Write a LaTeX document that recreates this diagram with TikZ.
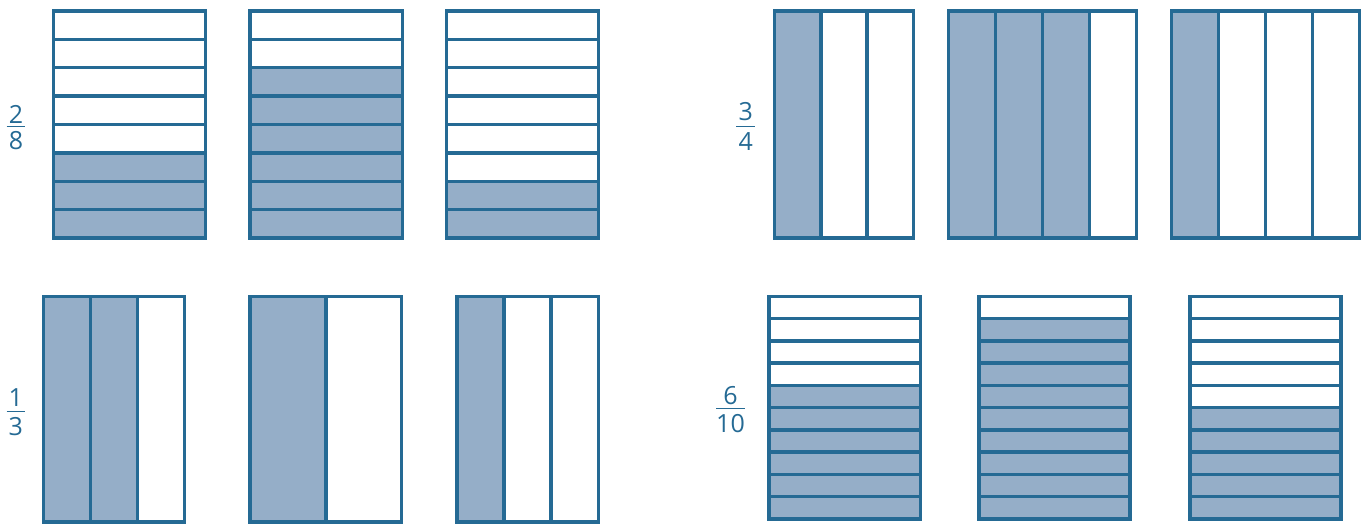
\documentclass[tikz,border=0pt]{standalone}
\usepackage{fontspec}
\setmainfont{Open Sans}
\definecolor{frameblue}{HTML}{256A94}
\definecolor{cellblue}{HTML}{95AEC8}
\tikzset{
  stripframe/.style={draw=frameblue,line width=3.5pt,line join=miter},
  stripline/.style={draw=frameblue,line width=3.5pt},
  cellfill/.style={fill=cellblue},
  fraclab/.style={text=frameblue,inner sep=0pt,font=\fontsize{25}{25}\selectfont},
  fracbar/.style={draw=frameblue,line width=1.3pt}
}
\newcommand\hstrips[6]{%
  \pgfmathsetmacro\stripH{(#4-#2)/#5}%
  \fill[cellfill] (#1,#4) rectangle (#3,{#4-#6*\stripH});
  \pgfmathtruncatemacro\stripM{#5-1}%
  \foreach \i in {1,...,\stripM}{\draw[stripline] (#1,{#2+\i*\stripH}) -- (#3,{#2+\i*\stripH});}
  \draw[stripframe] (#1,#2) rectangle (#3,#4);
}
\newcommand\vstrips[6]{%
  \pgfmathsetmacro\stripW{(#3-#1)/#5}%
  \fill[cellfill] (#1,#2) rectangle ({#1+#6*\stripW},#4);
  \pgfmathtruncatemacro\stripM{#5-1}%
  \foreach \i in {1,...,\stripM}{\draw[stripline] ({#1+\i*\stripW},#2) -- ({#1+\i*\stripW},#4);}
  \draw[stripframe] (#1,#2) rectangle (#3,#4);
}
\begin{document}
\begin{tikzpicture}[x=1pt,y=-1pt]
\useasboundingbox (0,0) rectangle (1370,524);
% top left
\hstrips{53.5}{11}{205.5}{238}{8}{3}
\hstrips{250}{11}{402.3}{238}{8}{6}
\hstrips{446.7}{11}{598.3}{238}{8}{2}
% top right
\vstrips{774.3}{11}{913.7}{238}{3}{1}
\vstrips{948.7}{11}{1136.7}{238}{4}{3}
\vstrips{1171.7}{11}{1359.3}{238}{4}{1}
% bottom left
\vstrips{43.3}{296.3}{184.7}{522}{3}{2}
\vstrips{250}{296.3}{401.7}{522}{2}{1}
\vstrips{457}{296.3}{598.3}{522}{3}{1}
% bottom right
\hstrips{769}{296.3}{920.3}{519}{10}{6}
\hstrips{979}{296.3}{1130}{519}{10}{9}
\hstrips{1190}{296.3}{1341}{519}{10}{5}
% labels
\node[fraclab] (n28) at (16,114.3) {2};
\node[fraclab] (d28) at (16,140.5) {8};
\coordinate (b28l) at (6.7,126.7); \coordinate (b28r) at (25,126.7);
\draw[fracbar] (b28l) -- (b28r);
\node[fraclab] (n34) at (745.7,112) {3};
\node[fraclab] (d34) at (745.7,141.7) {4};
\coordinate (b34l) at (736,126.7); \coordinate (b34r) at (755.3,126.7);
\draw[fracbar] (b34l) -- (b34r);
\node[fraclab] (n13) at (15.8,397.8) {1};
\node[fraclab] (d13) at (15.8,426.2) {3};
\coordinate (b13l) at (6.7,411.7); \coordinate (b13r) at (25,411.7);
\draw[fracbar] (b13l) -- (b13r);
\node[fraclab] (n610) at (730.5,395.3) {6};
\node[fraclab] (d610) at (730.5,423.7) {10};
\coordinate (b610l) at (716,408.3); \coordinate (b610r) at (745,408.3);
\draw[fracbar] (b610l) -- (b610r);
\end{tikzpicture}
\end{document}
